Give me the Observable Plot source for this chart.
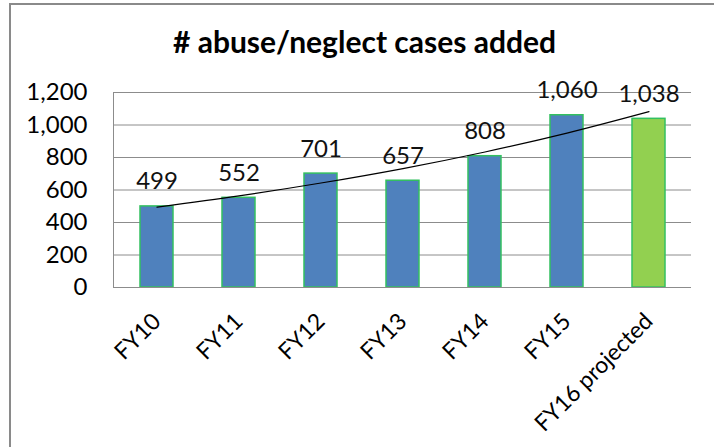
<!DOCTYPE html>
<html>
<head>
<meta charset="utf-8">
<script src="https://cdn.jsdelivr.net/npm/d3@7"></script>
<script src="https://cdn.jsdelivr.net/npm/@observablehq/plot@0.6"></script>
<style>
  html, body { margin: 0; padding: 0; background: #fff; }
  #wrap { position: relative; width: 714px; height: 447px; overflow: hidden; }
  #border { position: absolute; left: 9px; top: 3px; right: 0; bottom: 0;
            border-left: 2px solid #8a8a8a; border-top: 2px solid #8a8a8a; pointer-events: none; }
  #chart { position: absolute; left: 0; top: 0; }
</style>
</head>
<body>
<div id="wrap"><div id="chart"></div><div id="border"></div></div>
<script>
const title = "# abuse/neglect cases added";
const categories = ["FY10", "FY11", "FY12", "FY13", "FY14", "FY15", "FY16 projected"];
const cases = [499, 552, 701, 657, 808, 1060, 1038];
const kinds = ["actual", "actual", "actual", "actual", "actual", "actual", "projected"];
const trend = [495, 564, 643, 732, 834, 950, 1082];
const yTicks = [0, 200, 400, 600, 800, 1000, 1200];

const data = categories.map((c, i) => ({category: c, value: cases[i], kind: kinds[i], trend: trend[i]}));
const fmt = d3.format(",");

const chart = Plot.plot({
  width: 714,
  height: 447,
  marginLeft: 113,
  marginRight: 23,
  marginTop: 92,
  marginBottom: 160,
  style: {fontFamily: "Lato, 'Open Sans', sans-serif", fontSize: "24px", color: "#000", background: "transparent"},
  x: {type: "band", domain: categories, paddingInner: 0.6, paddingOuter: 0.3, label: null},
  y: {domain: [0, 1200], label: null},
  color: {domain: ["actual", "projected"], range: ["#4F81BD", "#92D050"]},
  marks: [
    Plot.gridY(yTicks, {stroke: "#8c8c8c", strokeOpacity: 1, strokeWidth: 1}),
    Plot.frame({anchor: "left", stroke: "#8c8c8c"}),
    Plot.barY(data, {x: "category", y: "value", fill: "kind", stroke: "#33C060", strokeWidth: 1.5}),
    Plot.line(data, {x: "category", y: "trend", stroke: "#000", strokeWidth: 1.2, curve: "monotone-x"}),
    Plot.ruleY([0], {stroke: "#8c8c8c", strokeWidth: 1}),
    Plot.text(data, {x: "category", y: "value", text: d => fmt(d.value), lineAnchor: "bottom", dy: -17, fontSize: 24, fill: "#111"}),
    Plot.axisY(yTicks, {tickFormat: fmt, tickSize: 0, tickPadding: 26, fontSize: 24, label: null}),
    Plot.axisX({tickRotate: -45, tickSize: 0, tickPadding: 30, fontSize: 23, label: null}),
    Plot.text([title], {frameAnchor: "top", lineAnchor: "bottom", dx: -38, dy: -40, fontSize: 30, fontWeight: "bold", fill: "#000"})
  ]
});
document.getElementById("chart").appendChild(chart);
</script>
</body>
</html>
